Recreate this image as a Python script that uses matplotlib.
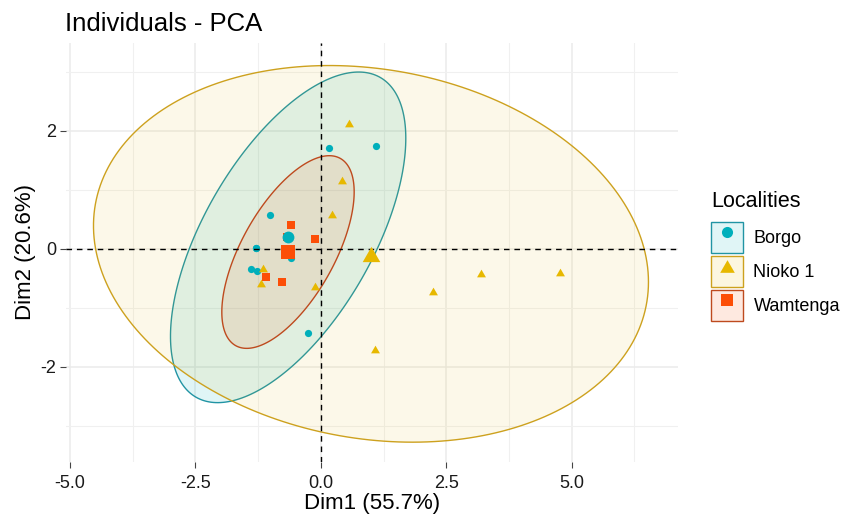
import numpy as np
import matplotlib
matplotlib.use('Agg')
import matplotlib.pyplot as plt
from matplotlib.patches import Polygon, Patch
from matplotlib.lines import Line2D
from matplotlib.path import Path
from matplotlib.colors import to_rgba
from matplotlib.legend_handler import HandlerTuple

plt.rcParams['font.family'] = ['Liberation Sans', 'DejaVu Sans']
plt.rcParams['axes.unicode_minus'] = False

# ---------------- data ----------------
groups = ['Borgo', 'Nioko 1', 'Wamtenga']

borgo_x = [0.16, 1.11, -1.01, -1.30, -1.30, -1.39, -1.27, -0.60, -0.26, -0.65]
borgo_y = [1.71, 1.75, 0.58, 0.01, 0.01, -0.34, -0.37, -0.15, -1.43, 0.20]

nioko_x = [0.57, 0.42, 0.22, -0.12, 2.23, 3.19, 4.76, 1.09, -1.16, -1.20]
nioko_y = [2.14, 1.17, 0.59, -0.62, -0.71, -0.41, -0.39, -1.70, -0.32, -0.58]

wamtenga_x = [-0.60, -0.12, -1.10, -0.77, -0.68]
wamtenga_y = [0.41, 0.17, -0.48, -0.56, 0.20]

x_ticks = [-5.0, -2.5, 0.0, 2.5, 5.0]
x_tick_labels = ['-5.0', '-2.5', '0.0', '2.5', '5.0']
y_ticks = [-2, 0, 2]
y_tick_labels = ['-2', '0', '2']
x_minor = [-3.75, -1.25, 1.25, 3.75, 6.25]
y_minor = [-3, -1, 1, 3]

xlabel = 'Dim1 (55.7%)'
ylabel = 'Dim2 (20.6%)'
title = 'Individuals - PCA'
legend_title = 'Localities'

# ---------------- styles ----------------
colors = ['#00AFBB', '#E7B800', '#FC4E07']
edge_colors = ['#2194A4', '#CDA11E', '#BE4A1E']
fill_alphas = [0.12, 0.085, 0.10]

tri = Path([(0, 0.433), (-0.5, -0.433), (0.5, -0.433), (0, 0.433)],
           [Path.MOVETO, Path.LINETO, Path.LINETO, Path.CLOSEPOLY])
markers = ['o', tri, 's']
small_ms = [5.2, 6.4, 5.4]
big_ms = [8.5, 12.7, 9.5]
legend_ms = [8.0, 10.5, 8.0]

xs = [borgo_x, nioko_x, wamtenga_x]
ys = [borgo_y, nioko_y, wamtenga_y]


def norm_ellipse(x, y, level=0.95, n_seg=240):
    """Same construction as ggplot2::stat_ellipse(type = 'norm')."""
    x = np.asarray(x, float)
    y = np.asarray(y, float)
    n = len(x)
    center = np.array([x.mean(), y.mean()])
    cov = np.cov(x, y)
    dfn, dfd = 2, n - 1
    fq = dfd / 2.0 * ((1 - level) ** (-2.0 / dfd) - 1)  # F quantile, dfn = 2
    radius = np.sqrt(dfn * fq)
    t = np.linspace(0, 2 * np.pi, n_seg)
    unit = np.column_stack([np.cos(t), np.sin(t)])
    chol = np.linalg.cholesky(cov)
    return center + radius * unit @ chol.T


# ---------------- figure ----------------
W, H = 850, 516
fig = plt.figure(figsize=(W / 100, H / 100), dpi=100)
L, R, T, B = 66, 678, 43, 462
ax = fig.add_axes([L / W, 1 - B / H, (R - L) / W, (B - T) / H])

for i in range(3):
    pts = norm_ellipse(xs[i], ys[i])
    ax.add_patch(Polygon(pts, closed=True, facecolor=to_rgba(colors[i], fill_alphas[i]),
                         edgecolor=edge_colors[i], lw=1.0, zorder=2 + i * 0.01))

for i in range(3):
    ax.plot(xs[i], ys[i], ls='none', marker=markers[i], ms=small_ms[i],
            color=colors[i], markeredgewidth=0, zorder=3)

ax.axhline(0, color='black', lw=1.0, ls=(0, (4, 3.5)), zorder=4)
ax.axvline(0, color='black', lw=1.0, ls=(0, (4, 3.5)), zorder=4)

for i in range(3):
    ax.plot([np.mean(xs[i])], [np.mean(ys[i])], ls='none', marker=markers[i],
            ms=big_ms[i], color=colors[i], markeredgewidth=0, zorder=5)

ax.set_xlim(-5.079, 7.12)
ax.set_ylim(-3.61, 3.49)

ax.set_xticks(x_ticks)
ax.set_xticklabels(x_tick_labels)
ax.set_yticks(y_ticks)
ax.set_yticklabels(y_tick_labels)
ax.set_xticks(x_minor, minor=True)
ax.set_yticks(y_minor, minor=True)
ax.tick_params(which='major', length=4, width=0.8, color='#444444',
               labelsize=13, labelcolor='#1a1a1a', pad=3)
ax.tick_params(axis='x', which='major', pad=5)
ax.tick_params(which='minor', length=0)
ax.grid(which='major', color='#EBEBEB', lw=1.1, zorder=0)
ax.grid(which='minor', color='#F0F0F0', lw=0.8, zorder=0)
ax.set_axisbelow(True)
for s in ax.spines.values():
    s.set_visible(False)

ax.set_xlabel(xlabel, fontsize=16, color='black')
ax.xaxis.set_label_coords(0.5, (B - 504) / (B - T))
ax.xaxis.label.set_va('center')
ax.set_ylabel(ylabel, fontsize=16, color='black')
ax.yaxis.set_label_coords((25 - L) / (R - L), 0.5)
ax.yaxis.label.set_va('center')

ax.set_title(title, loc='left', fontsize=18.5, color='black', pad=0,
             y=1 + (T - 31) / (B - T), x=(65 - L) / (R - L))

handles = []
for i in range(3):
    patch = Patch(facecolor=to_rgba(colors[i], 0.12), edgecolor=edge_colors[i], lw=1.0)
    mk = Line2D([], [], ls='none', marker=markers[i], ms=legend_ms[i],
                color=colors[i], markeredgewidth=0)
    handles.append((patch, mk))

leg = ax.legend(handles, groups, title=legend_title, loc='upper left',
                bbox_to_anchor=(711 / W, 1 - 191 / H), bbox_transform=fig.transFigure,
                frameon=False, fontsize=13, title_fontsize=15.5,
                handlelength=1.75, handleheight=2.315, handletextpad=0.6,
                labelspacing=0.13, borderpad=0, borderaxespad=0,
                alignment='left', handler_map={tuple: HandlerTuple(ndivide=1)})
leg._legend_box.sep = 7.0

fig.savefig('out.png', dpi=100, facecolor='white')
